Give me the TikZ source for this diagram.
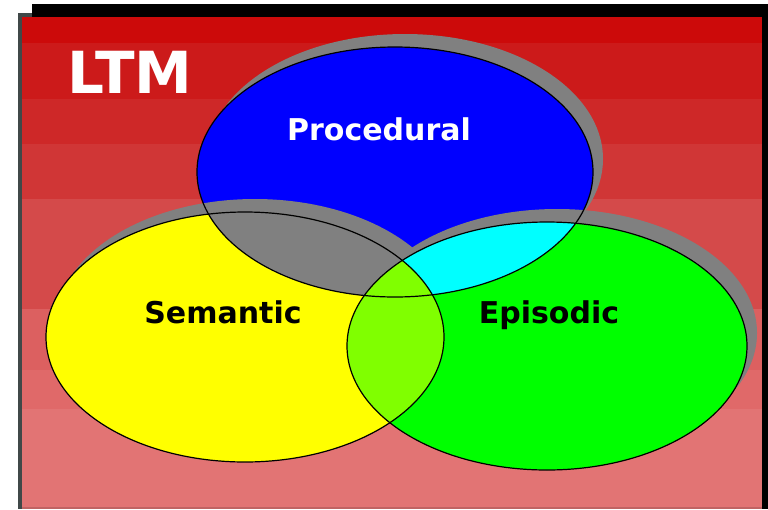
\documentclass[tikz,border=0pt]{standalone}
\usepackage{fontspec}
\newfontfamily\labelfont{DejaVu Sans}

% background bands, top to bottom
\definecolor{bandA}{HTML}{CC0A0A}
\definecolor{bandB}{HTML}{CC1A1A}
\definecolor{bandC}{HTML}{CE2828}
\definecolor{bandD}{HTML}{D03636}
\definecolor{bandE}{HTML}{D44A4A}
\definecolor{bandF}{HTML}{DC6060}
\definecolor{bandG}{HTML}{E06969}
\definecolor{bandH}{HTML}{E27474}
\definecolor{frameedge}{HTML}{404848}
\definecolor{shadowgray}{HTML}{808080}
\definecolor{procblue}{HTML}{0000FF}
\definecolor{semyellow}{HTML}{FFFF00}
\definecolor{epigreen}{HTML}{00FF00}
\definecolor{procepi}{HTML}{00FFFF}
\definecolor{semepi}{HTML}{80FF00}

% the three memory sets
\newcommand{\procshape}{(395,172) ellipse [x radius=198, y radius=125]}
\newcommand{\semshape}{(245,337) ellipse [x radius=199, y radius=125]}
\newcommand{\epishape}{(547,346) ellipse [x radius=200, y radius=124]}

\begin{document}
\begin{tikzpicture}[
    x=1pt, y=-1pt,
    outline/.style={draw=black, line width=1.2pt},
    setshadow/.style={fill=shadowgray, shift={(10,-13)}},
    bigtitle/.style={font=\labelfont\bfseries\fontsize{58}{60}\selectfont, text=white, inner sep=0pt, anchor=base},
    setlabel/.style={font=\labelfont\bfseries\fontsize{30}{32}\selectfont, inner sep=0pt, anchor=base}
]
    \useasboundingbox (0,0) rectangle (768,509);
    \fill[white] (0,0) rectangle (768,509);

    % Frame
    \fill[black] (32,4) rectangle (768,17);
    \fill[black] (762,4) rectangle (768,509);
    \fill[frameedge] (18,13) rectangle (32,17);
    \fill[frameedge] (18,13) rectangle (22,509);

    % Red bands
    \foreach \ya/\yb/\col in {17/43/bandA, 43/99/bandB, 99/144/bandC, 144/199/bandD,
                              199/309/bandE, 309/370/bandF, 370/409/bandG, 409/507/bandH} {
        \fill[\col] (22,\ya) rectangle (762,\yb);
    }
    \fill[bandH!85!black] (22,507) rectangle (762,509);

    % --- Procedural ---
    \fill[setshadow] \procshape;
    \fill[procblue] \procshape;

    % --- Semantic and Episodic ---
    \fill[setshadow] \semshape;
    \fill[setshadow] \epishape;
    \fill[semyellow] \semshape;
    \fill[epigreen] \epishape;

    % Overlaps
    \begin{scope}
        \clip \procshape;
        \fill[shadowgray] \semshape;
        \fill[procepi] \epishape;
    \end{scope}
    \begin{scope}
        \clip \semshape;
        \fill[semepi] \epishape;
    \end{scope}

    % Outlines
    \draw[outline] \procshape;
    \draw[outline] \semshape;
    \draw[outline] \epishape;

    % Labels
    \node[bigtitle] (ltm) at (130,93) {LTM};
    \node[setlabel, text=white] (proc) at (379,140) {Procedural};
    \node[setlabel, text=black] (sem) at (223,323) {Semantic};
    \node[setlabel, text=black] (epi) at (549,323) {Episodic};

\end{tikzpicture}
\end{document}
